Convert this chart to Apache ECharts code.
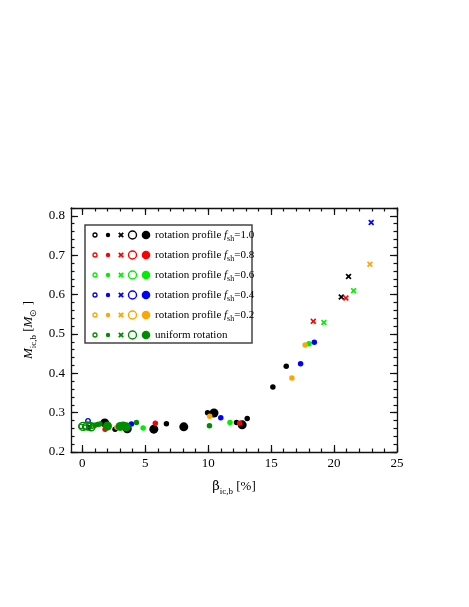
<!DOCTYPE html>
<html><head><meta charset="utf-8">
<script src="https://cdn.jsdelivr.net/npm/echarts@6/dist/echarts.min.js"></script>
<style>html,body{margin:0;padding:0;background:#fff}#c{width:469px;height:607px}</style>
</head><body><div id="c"></div>
<script>
// ---- data ----
const xTickLabels = [0, 5, 10, 15, 20, 25];
const yTickLabels = [0.2, 0.3, 0.4, 0.5, 0.6, 0.7, 0.8];

const black_dot   = [[0.5,0.262],[2.6,0.258],[6.68,0.272],[9.95,0.300],[12.25,0.275],[13.1,0.285],[15.14,0.365],[16.2,0.418]];
const black_big   = [[1.78,0.274],[3.57,0.259],[5.68,0.258],[8.06,0.264],[10.46,0.299],[12.7,0.269]];
const black_cross = [[20.57,0.594],[21.15,0.646]];
const red_dot     = [[1.81,0.258],[5.8,0.273],[12.5,0.273]];
const red_cross   = [[18.35,0.532],[20.94,0.591]];
const lime_dot    = [[4.83,0.261],[11.73,0.275],[18.0,0.475]];
const lime_cross  = [[19.19,0.529],[21.55,0.610]];
const blue_open   = [[0.45,0.279]];
const blue_dot    = [[3.9,0.271],[11.0,0.287],[17.34,0.424],[18.43,0.479]];
const blue_cross  = [[22.95,0.783]];
const orange_dot  = [[2.75,0.263],[10.12,0.291],[16.65,0.388],[17.7,0.472]];
const orange_cross= [[22.85,0.677]];
const dgreen_open    = [[-0.1,0.265],[0.2,0.263],[0.55,0.268],[0.8,0.266]];
const dgreen_openbig = [[0.05,0.265],[0.4,0.266],[0.7,0.264]];
const dgreen_dot     = [[1.0,0.268],[1.2,0.27],[1.4,0.271],[4.3,0.275],[10.1,0.267]];
const dgreen_big     = [[2.0,0.266],[3.0,0.265],[3.25,0.266],[3.5,0.264]];

const legendLabels = ['1.0','0.8','0.6','0.4','0.2'];

// ---- styling ----
const C = {black:'#000000', red:'#ff0000', lime:'#00ee00', blue:'#0000ff', orange:'#ffa500', dgreen:'#008c00'};
const FONT = 'Liberation Serif';
const CROSS = 'path://M0,2L2,0L5,3L8,0L10,2L7,5L10,8L8,10L5,7L2,10L0,8L3,5Z';

function ser(data, color, kind){
  const s = {type:'scatter', data:data, xAxisIndex:0, yAxisIndex:0, animation:false, silent:true};
  if(kind==='dot'){ s.symbol='circle'; s.symbolSize=5.5; s.itemStyle={color:color, opacity:1}; }
  if(kind==='big'){ s.symbol='circle'; s.symbolSize=9; s.itemStyle={color:color, opacity:1}; }
  if(kind==='cross'){ s.symbol=CROSS; s.symbolSize=6; s.itemStyle={color:color, opacity:1}; }
  if(kind==='open'){ s.symbol='circle'; s.symbolSize=4.5; s.itemStyle={color:'rgba(255,255,255,0)', borderColor:color, borderWidth:1.4, opacity:1}; }
  if(kind==='openbig'){ s.symbol='circle'; s.symbolSize=8; s.itemStyle={color:'rgba(255,255,255,0)', borderColor:color, borderWidth:1.4, opacity:1}; }
  return s;
}

const series = [
  ser(black_dot,C.black,'dot'), ser(black_big,C.black,'big'), ser(black_cross,C.black,'cross'),
  ser(red_dot,C.red,'dot'), ser(red_cross,C.red,'cross'),
  ser(lime_dot,C.lime,'dot'), ser(lime_cross,C.lime,'cross'),
  ser(blue_open,C.blue,'open'), ser(blue_dot,C.blue,'dot'), ser(blue_cross,C.blue,'cross'),
  ser(orange_dot,C.orange,'dot'), ser(orange_cross,C.orange,'cross'),
  ser(dgreen_big,C.dgreen,'big'), ser(dgreen_dot,C.dgreen,'dot'),
  ser(dgreen_openbig,C.dgreen,'openbig'), ser(dgreen_open,C.dgreen,'open')
];

const XMIN=-0.9, XMAX=25, YMIN=0.2, YMAX=0.82;
const xMinor=[]; for(let i=0; i<=25; i++) xMinor.push(i);
const yMinor=[]; for(let i=0; i<=31; i++) yMinor.push(Math.round((0.2+i*0.02)*1000)/1000);

function xAx(grid, pos, major, labels){
  return {type:'value', gridIndex:grid, position:pos, min:XMIN, max:XMAX,
    axisLine: {show: grid===0, onZero:false, lineStyle:{color:'#111', width:1.3}},
    axisTick:{show:true, inside:true, length: major?7:3.5, customValues: major?xTickLabels:xMinor, lineStyle:{color:'#111', width:1.2}},
    axisLabel: labels ? {show:true, customValues:xTickLabels, fontFamily:FONT, fontSize:13, color:'#000', margin:5} : {show:false},
    splitLine:{show:false}};
}
function yAx(grid, pos, major, labels){
  return {type:'value', gridIndex:grid, position:pos, min:YMIN, max:YMAX,
    axisLine: {show: grid===0, onZero:false, lineStyle:{color:'#111', width:1.3}},
    axisTick:{show:true, inside:true, length: major?7:3.5, customValues: major?yTickLabels:yMinor, lineStyle:{color:'#111', width:1.2}},
    axisLabel: labels ? {show:true, customValues:yTickLabels, fontFamily:FONT, fontSize:13, color:'#000', margin:6, formatter:v=>v.toFixed(1)} : {show:false},
    splitLine:{show:false}};
}

const xMain = xAx(0,'bottom',true,true);
xMain.name = '{g|β}{s|ic,b}{n| [%]}';
xMain.nameLocation='middle'; xMain.nameGap=26;
xMain.nameTextStyle={fontFamily:FONT, fontSize:13, color:'#000', rich:{
  g:{fontFamily:'DejaVu Serif', fontSize:13, color:'#000'},
  s:{fontFamily:FONT, fontSize:9, color:'#000', padding:[9,0,0,0]},
  n:{fontFamily:FONT, fontSize:13, color:'#000'}}};

const yMain = yAx(0,'left',true,true);
yMain.name = '{i|M}{s|ic,b}{n| [}{i|M}{s|⊙}{n| ]}';
yMain.nameLocation='middle'; yMain.nameGap=28;
yMain.nameTextStyle={fontFamily:FONT, fontSize:13, color:'#000', rich:{
  i:{fontFamily:FONT, fontStyle:'italic', fontSize:13, color:'#000'},
  s:{fontFamily:FONT, fontSize:9, color:'#000', padding:[9,0,0,0]},
  n:{fontFamily:FONT, fontSize:13, color:'#000'}}};

// ---- legend (graphic) ----
const legendRows = [
  {color:C.black, label:legendLabels[0]}, {color:C.red, label:legendLabels[1]}, {color:C.lime, label:legendLabels[2]},
  {color:C.blue, label:legendLabels[3]}, {color:C.orange, label:legendLabels[4]}, {color:C.dgreen, label:null}
];
const LX=85, LY=225, LW=167, LH=118;
const gfx = [{type:'rect', shape:{x:LX, y:LY, width:LW, height:LH}, style:{fill:'#fff', stroke:'#444', lineWidth:1.5}, z:10}];
const symX=[95,108,121,132.5,146];
legendRows.forEach((r,i)=>{
  const y = LY+10+i*20;
  const cx = symX[2], d=2.2;
  gfx.push({type:'circle', shape:{cx:symX[0], cy:y, r:2}, style:{fill:'#fff', stroke:r.color, lineWidth:1.3}, z:11});
  gfx.push({type:'circle', shape:{cx:symX[1], cy:y, r:2.2}, style:{fill:r.color}, z:11});
  gfx.push({type:'line', shape:{x1:cx-d, y1:y-d, x2:cx+d, y2:y+d}, style:{stroke:r.color, lineWidth:1.8}, z:11});
  gfx.push({type:'line', shape:{x1:cx+d, y1:y-d, x2:cx-d, y2:y+d}, style:{stroke:r.color, lineWidth:1.8}, z:11});
  gfx.push({type:'circle', shape:{cx:symX[3], cy:y, r:4}, style:{fill:'#fff', stroke:r.color, lineWidth:1.4}, z:11});
  gfx.push({type:'circle', shape:{cx:symX[4], cy:y, r:4.3}, style:{fill:r.color}, z:11});
  const txt = r.label ? '{a|rotation profile }{f|f}{s|sh}{a|='+r.label+'}' : '{a|uniform rotation}';
  gfx.push({type:'text', x:155, y:y, z:11, style:{text:txt, verticalAlign:'middle', align:'left', fill:'#000',
    font:'11px '+FONT,
    rich:{a:{fontFamily:FONT, fontSize:11, fill:'#000'},
          f:{fontFamily:FONT, fontStyle:'italic', fontSize:11, fill:'#000'},
          s:{fontFamily:FONT, fontSize:8, fill:'#000', padding:[7,0,0,0]}}}});
});

const chart = echarts.init(document.getElementById('c'), null, {renderer:'canvas'});
chart.setOption({
  backgroundColor:'#fff',
  animation:false,
  grid:[{left:71, right:72, top:208, bottom:155}, {left:71, right:72, top:208, bottom:155}],
  xAxis:[xMain, xAx(0,'top',true,false), xAx(1,'bottom',false,false), xAx(1,'top',false,false)],
  yAxis:[yMain, yAx(0,'right',true,false), yAx(1,'left',false,false), yAx(1,'right',false,false)],
  series: series,
  graphic: gfx
});
</script></body></html>
